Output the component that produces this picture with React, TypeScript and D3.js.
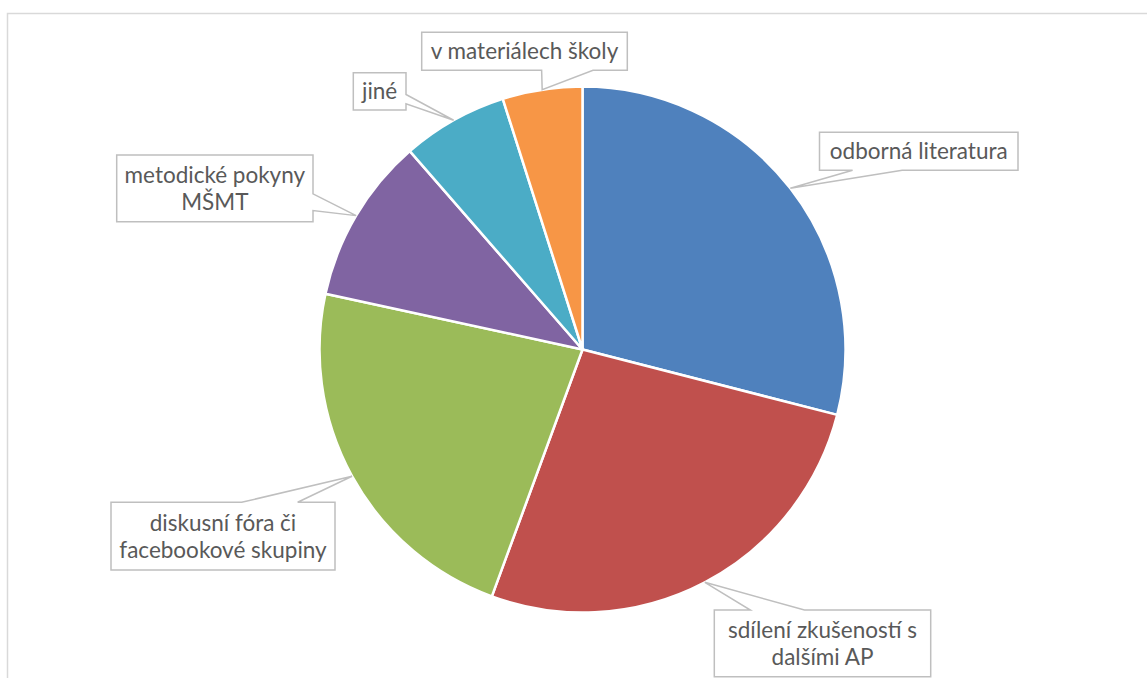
import React from "react";
import * as d3 from "d3";

const categories = [
  "odborná literatura",
  "sdílení zkušeností s dalšími AP",
  "diskusní fóra či facebookové skupiny",
  "metodické pokyny MŠMT",
  "jiné",
  "v materiálech školy",
];
const values = [29.0, 26.6, 22.8, 10.2, 6.5, 4.9];
const labelLines = [
  ["odborná literatura"],
  ["sdílení zkušeností s", "dalšími AP"],
  ["diskusní fóra či", "facebookové skupiny"],
  ["metodické pokyny", "MŠMT"],
  ["jiné"],
  ["v materiálech školy"],
];
const colors = ["#4F81BD", "#C0504D", "#9BBB59", "#8064A2", "#4BACC6", "#F79646"];

// label callout boxes (layout)
const labelBoxes = [
  { x: 819.5, y: 132.3, w: 198.5, h: 38, side: "bottom" },
  { x: 714.3, y: 610, w: 216.4, h: 66.7, side: "top" },
  { x: 111, y: 502.3, w: 224, h: 67.7, side: "top" },
  { x: 116.7, y: 155, w: 196.3, h: 66.7, side: "right" },
  { x: 353.3, y: 72.7, w: 52.7, h: 37.3, side: "right" },
  { x: 421.7, y: 32.3, w: 205.6, h: 38, side: "bottom" },
];

const W = 1147;
const H = 678;
const cx = 582.5;
const cy = 349.5;
const R = 263;
const FONT = "Lato, 'Open Sans', sans-serif";
const FS = 22.5;
const LH = 27;

function calloutPath(b: any, tx: number, ty: number) {
  const { x, y, w, h, side } = b;
  const clamp = (v: number, lo: number, hi: number) => Math.max(lo, Math.min(hi, v));
  if (side === "bottom" || side === "top") {
    const bw = w / 4;
    const s = clamp(tx, x + w / 6, x + w - w / 6 - bw);
    if (side === "bottom") {
      return `M${x},${y}H${x + w}V${y + h}H${s + bw}L${tx},${ty}L${s},${y + h}H${x}Z`;
    }
    return `M${x},${y}H${s}L${tx},${ty}L${s + bw},${y}H${x + w}V${y + h}H${x}Z`;
  }
  const bh = h / 4;
  const s = clamp(ty, y + h / 6, y + h - h / 6 - bh);
  if (side === "right") {
    return `M${x},${y}H${x + w}V${s}L${tx},${ty}L${x + w},${s + bh}V${y + h}H${x}Z`;
  }
  return `M${x},${y}H${x + w}V${y + h}H${x}V${s + bh}L${tx},${ty}L${x},${s}Z`;
}

export default function App() {
  const pie = d3.pie<number>().sort(null).value((d) => d);
  const arcs = pie(values);
  const arc = d3.arc<d3.PieArcDatum<number>>().innerRadius(0).outerRadius(R);

  return (
    <svg
      width={W}
      height={H}
      style={{ position: "absolute", left: 0, top: 0, display: "block", background: "#fff" }}
    >
      <rect x={7.5} y={13.5} width={1160} height={700} fill="#fff" stroke="#d9d9d9" strokeWidth={1.5} />
      <g transform={`translate(${cx},${cy})`}>
        {arcs.map((a, i) => (
          <path key={categories[i]} d={arc(a) || ""} fill={colors[i]} stroke="#fff" strokeWidth={2.5} strokeLinejoin="round" />
        ))}
      </g>
      {arcs.map((a, i) => {
        const mid = (a.startAngle + a.endAngle) / 2;
        const tx = cx + Math.sin(mid) * R;
        const ty = cy - Math.cos(mid) * R;
        const b = labelBoxes[i];
        const lines = labelLines[i];
        const midY = b.y + b.h / 2;
        const startY = midY - ((lines.length - 1) * LH) / 2;
        return (
          <g key={"lbl" + i}>
            <path d={calloutPath(b, tx, ty)} fill="#fff" stroke="#bfbfbf" strokeWidth={1.5} />
            {lines.map((ln, j) => (
              <text
                key={j}
                x={b.x + b.w / 2}
                y={startY + j * LH}
                dy="0.36em"
                textAnchor="middle"
                fontFamily={FONT}
                fontSize={FS}
                fill="#595959"
              >
                {ln}
              </text>
            ))}
          </g>
        );
      })}
    </svg>
  );
}
